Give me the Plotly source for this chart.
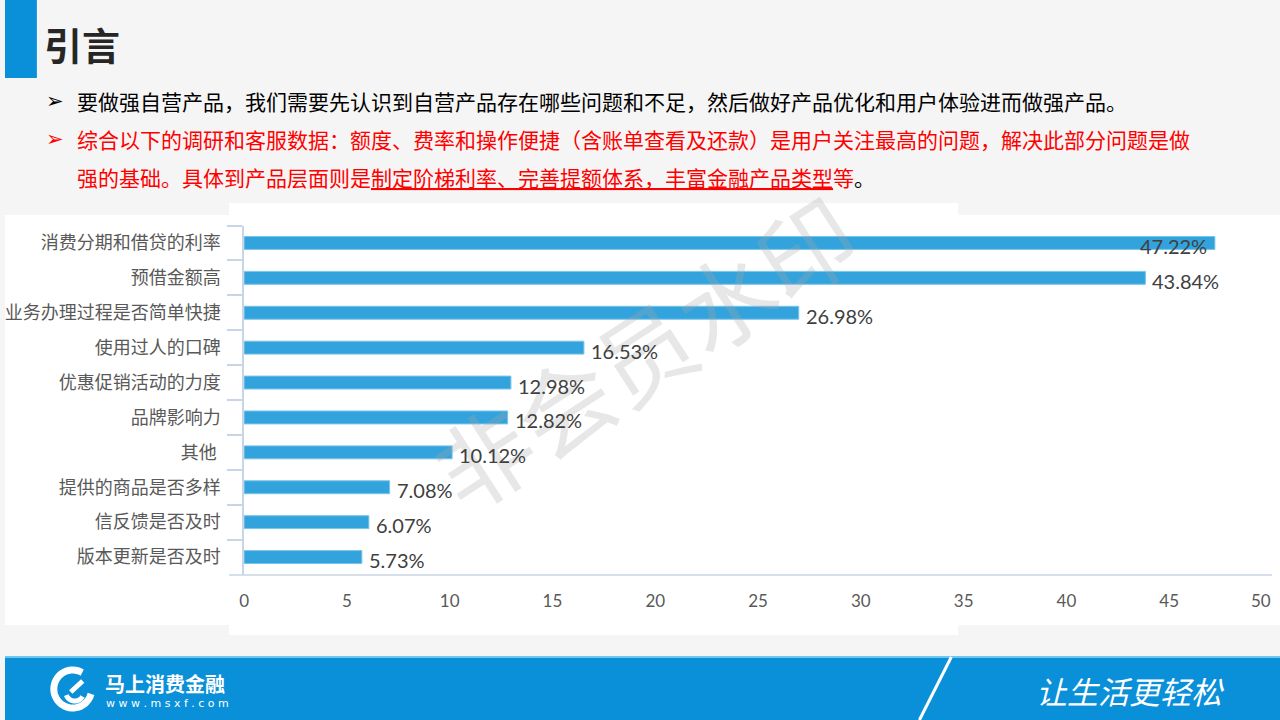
import math
import plotly.graph_objects as go

W, H = 1280, 720

categories = ["消费分期和借贷的利率", "预借金额高", "业务办理过程是否简单快捷", "使用过人的口碑",
              "优惠促销活动的力度", "品牌影响力", "其他 ", "提供的商品是否多样",
              "信反馈是否及时", "版本更新是否及时"]
values = [47.22, 43.84, 26.98, 16.53, 12.98, 12.82, 10.12, 7.08, 6.07, 5.73]
value_labels = ["47.22%", "43.84%", "26.98%", "16.53%", "12.98%", "12.82%",
                "10.12%", "7.08%", "6.07%", "5.73%"]
x_ticks = [0, 5, 10, 15, 20, 25, 30, 35, 40, 45, 50]

title_text = "引言"
bullet_1 = "要做强自营产品，我们需要先认识到自营产品存在哪些问题和不足，然后做好产品优化和用户体验进而做强产品。"
bullet_2a = "综合以下的调研和客服数据：额度、费率和操作便捷（含账单查看及还款）是用户关注最高的问题，解决此部分问题是做"
bullet_2b = "强的基础。具体到产品层面则是"
bullet_2u = "制定阶梯利率、完善提额体系，丰富金融产品类型"
bullet_2c = "等"

CJK = "Noto Sans CJK SC"
BLUE = "#0a8fd9"
AXIS = "#c8d5e6"


def px(x):
    return x / W


def py(y):
    return 1 - y / H


def arc_path(cx, cy, r, a0, a1, n=40):
    # svg path in paper coords for a circular arc given in pixels
    pts = []
    for k in range(n + 1):
        a = math.radians(a0 + (a1 - a0) * k / n)
        pts.append((px(cx + r * math.cos(a)), py(cy - r * math.sin(a))))
    return "M " + " L ".join(f"{x:.5f},{y:.5f}" for x, y in pts)


fig = go.Figure()

fig.add_trace(go.Bar(
    x=values, y=categories, orientation="h",
    marker=dict(color="#32a3dc", line=dict(color="#7cc4ea", width=1)),
    width=0.37, hoverinfo="skip",
))

shapes = [
    # white panels behind the chart picture
    dict(type="rect", xref="paper", yref="paper", x0=px(0), x1=px(1280), y0=py(625), y1=py(215),
         fillcolor="white", line_width=0, layer="below"),
    dict(type="rect", xref="paper", yref="paper", x0=px(225), x1=px(957), y0=py(635), y1=py(203),
         fillcolor="white", line_width=0, layer="below"),
    # title block
    dict(type="rect", xref="paper", yref="paper", x0=px(0), x1=px(32), y0=py(78), y1=py(0),
         fillcolor=BLUE, line_width=0),
    # x axis line extension
    dict(type="line", xref="paper", yref="paper", x0=px(225), x1=px(1272), y0=py(575), y1=py(575),
         line=dict(color=AXIS, width=1.5)),
    # footer
    dict(type="rect", xref="paper", yref="paper", x0=px(0), x1=px(1280), y0=py(720), y1=py(657),
         fillcolor=BLUE, line_width=0),
    dict(type="line", xref="paper", yref="paper", x0=px(0), x1=px(1280), y0=py(657), y1=py(657),
         line=dict(color="#6cc6ee", width=2)),
    dict(type="line", xref="paper", yref="paper", x0=px(950), x1=px(918), y0=py(657), y1=py(720),
         line=dict(color="white", width=3)),
    # logo ring with a gap at the upper right
    dict(type="path", xref="paper", yref="paper", path=arc_path(68, 689, 19, 60, 345),
         line=dict(color="white", width=7)),
    dict(type="path", xref="paper", yref="paper", path=arc_path(70, 692, 9, 200, 330),
         line=dict(color="white", width=5)),
    dict(type="line", xref="paper", yref="paper", x0=px(66), x1=px(78), y0=py(692), y1=py(681),
         line=dict(color="white", width=5)),
]

annotations = [
    dict(text="<b>" + title_text + "</b>", x=px(37), y=py(43), xanchor="left", yanchor="middle",
         font=dict(size=38, color="#262626", family=CJK)),
    dict(text="➢", x=px(39), y=py(101), xanchor="left", yanchor="middle",
         font=dict(size=21, color="#000000", family="DejaVu Sans")),
    dict(text=bullet_1, x=px(70), y=py(101), xanchor="left", yanchor="middle",
         font=dict(size=21, color="#000000", family=CJK)),
    dict(text="➢", x=px(39), y=py(139), xanchor="left", yanchor="middle",
         font=dict(size=21, color="#ff0000", family="DejaVu Sans")),
    dict(text=bullet_2a, x=px(70), y=py(139), xanchor="left", yanchor="middle",
         font=dict(size=21, color="#ff0000", family=CJK)),
    dict(text=bullet_2b + "<u>" + bullet_2u + "</u>" + bullet_2c + "<span style='color:#000000'>。</span>",
         x=px(70), y=py(177), xanchor="left", yanchor="middle",
         font=dict(size=21, color="#ff0000", family=CJK)),
    # watermark
    dict(text="非会员水印", x=px(640), y=py(350), xanchor="center", yanchor="middle", textangle=-33,
         font=dict(size=96, color="rgba(170,170,170,0.28)", family=CJK)),
    # last x tick label, pulled inside like in the source picture
    dict(text="50", x=50, xref="x", y=py(600), xanchor="right", yanchor="middle", xshift=1,
         font=dict(size=17, color="#595959", family="Lato")),
    # footer texts
    dict(text="<b>马上消费金融</b>", x=px(98), y=py(683), xanchor="left", yanchor="middle",
         font=dict(size=20, color="white", family=CJK)),
    dict(text="w w w . m s x f . c o m", x=px(99), y=py(703), xanchor="left", yanchor="middle",
         font=dict(size=11, color="white", family="DejaVu Sans")),
    dict(text="<i>让生活更轻松</i>", x=px(1033), y=py(690), xanchor="left", yanchor="middle",
         font=dict(size=31, color="white", family=CJK)),
]

# value labels placed through the data axes
for i, (v, c, t) in enumerate(zip(values, categories, value_labels)):
    first = i == 0
    annotations.append(dict(
        text=t, x=v, y=c, xref="x", yref="y",
        xanchor="right" if first else "left", xshift=-6 if first else 5, yshift=-3,
        showarrow=False, font=dict(size=20, color="#404040", family="Lato"),
    ))

for a in annotations:
    a.setdefault("xref", "paper")
    a.setdefault("yref", "paper")
    a.setdefault("showarrow", False)

fig.update_layout(
    width=W, height=H,
    margin=dict(l=0, r=0, t=0, b=0),
    paper_bgcolor="#f5f5f5",
    plot_bgcolor="rgba(0,0,0,0)",
    showlegend=False,
    shapes=shapes,
    annotations=annotations,
    xaxis=dict(
        domain=[px(240), px(1272)], range=[0, 50], tickvals=x_ticks[:-1],
        showgrid=False, zeroline=False, showline=False, ticks="",
        ticklabelstandoff=14,
        tickfont=dict(size=17, color="#595959", family="Lato"),
    ),
    yaxis=dict(
        domain=[py(574.5), py(225.5)], autorange="reversed",
        showgrid=False, zeroline=False,
        showline=True, linecolor=AXIS, linewidth=1.5,
        ticks="outside", tickson="boundaries", ticklen=15, tickcolor=AXIS, tickwidth=1.5,
        ticklabelstandoff=18,
        tickfont=dict(size=18, color="#595959", family=CJK),
    ),
)

fig.write_html(
    "out.html",
    config={"displayModeBar": False},
    post_script="document.documentElement.style.overflow='hidden';"
                "document.body.style.margin='0';document.body.style.padding='0';"
                "document.body.style.overflow='hidden';"
                "var d=document.getElementById('{plot_id}');"
                "d.style.position='absolute';d.style.left='0px';d.style.top='0px';",
)
